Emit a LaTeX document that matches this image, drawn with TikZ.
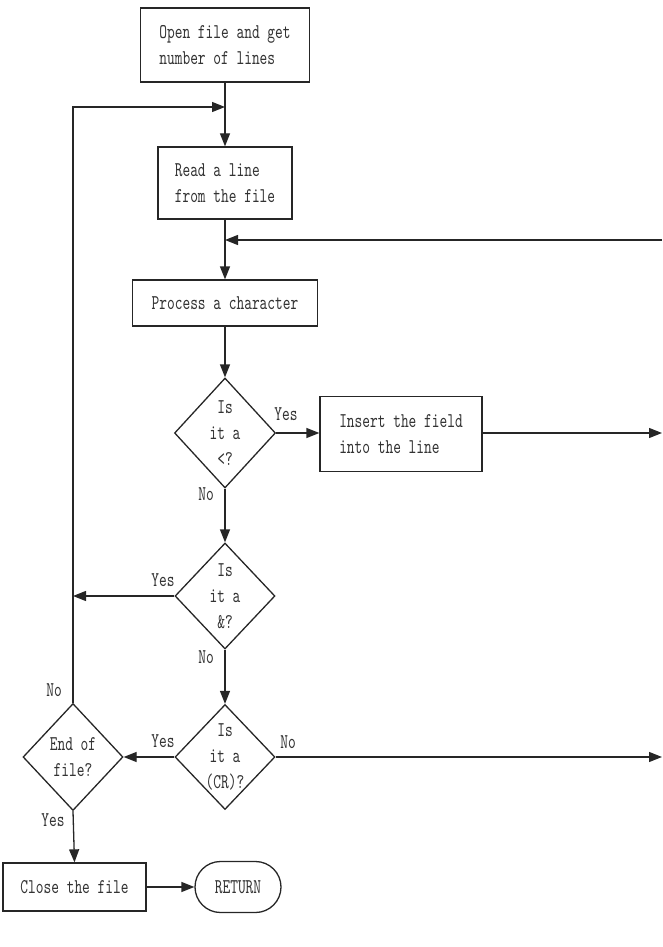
\documentclass[tikz,border=0pt]{standalone}
\usepackage{fontspec}
\setmonofont{lmmono10-regular.otf}[FakeStretch=0.7]
\usetikzlibrary{shapes.geometric,shapes.misc,arrows.meta}
\tikzset{
  every node/.style={font=\ttfamily\fontsize{21}{26}\selectfont, text=black!80},
  boxnode/.style={draw=black!85, line width=1.3pt, inner sep=0pt, align=left},
  dia/.style={draw=black!85, line width=1.3pt, diamond, inner sep=0pt, aspect=1},
  txt/.style={align=center, inner sep=0pt},
  lbl/.style={inner sep=0pt},
  conn/.style={draw=black!85, line width=1.3pt, -{Triangle[length=13pt,width=10pt]}},
}
\begin{document}
\begin{tikzpicture}[x=1pt,y=-1pt]
\useasboundingbox (0,0) rectangle (662,947);
% boxes
\node[boxnode, minimum width=169pt, minimum height=74pt] (b1) at (225,45) {Open file and get\\number of lines};
\node[boxnode, minimum width=134pt, minimum height=72pt] (b2) at (225,183) {Read a line\\from the file};
\node[boxnode, minimum width=185pt, minimum height=46pt] (b3) at (225,303) {Process a character};
\node[boxnode, minimum width=162pt, minimum height=75pt] (b4) at (401,434) {Insert the field\\into the line};
\node[boxnode, minimum width=143pt, minimum height=48pt] (b5) at (74.5,887) {Close the file};
\node[draw=black!85, line width=1.3pt, rounded rectangle, minimum width=86pt, minimum height=51pt, inner sep=0pt] (ret) at (238,887) {RETURN};
% diamonds
\node[dia, minimum width=101pt, minimum height=110pt] (d1) at (225,433) {};
\node[txt] at (d1) {Is\\it a\\<?};
\node[dia, minimum width=100pt, minimum height=106pt] (d2) at (225,596) {};
\node[txt] at (d2) {Is\\it a\\\&?};
\node[dia, minimum width=100pt, minimum height=105pt] (d3) at (225,757) {};
\node[txt] at (d3) {Is\\it a\\(CR)?};
\node[dia, minimum width=100pt, minimum height=107pt] (d4) at (73,757) {};
\node[txt] at (d4) {End of\\file?};
% coordinates
\coordinate (j1) at (225,107);
\coordinate (lc) at (73,107);
\coordinate (j2) at (225,240);
\coordinate (rt) at (662,240);
\coordinate (r1) at (662,433);
\coordinate (r2) at (662,757);
\coordinate (l2) at (73,596);
% connectors
\draw[conn] (b1.south) -- (b2.north);
\draw[conn] (d4.north) -- (lc) -- (j1);
\draw[conn] (b2.south) -- (b3.north);
\draw[conn] (rt) -- (j2);
\draw[conn] (b3.south) -- (d1.north);
\draw[conn] (d1.east) -- (b4.west |- d1.east);
\draw[conn] (b4.east |- r1) -- (r1);
\draw[conn] (d1.south) -- (d2.north);
\draw[conn] (d2.west) -- (l2);
\draw[conn] (d2.south) -- (d3.north);
\draw[conn] (d3.west) -- (d4.east);
\draw[conn] (d3.east) -- (r2);
\draw[conn] (d4.south) -- (b5.north);
\draw[conn] (b5.east) -- (ret.west);
% labels
\node[lbl] (y1) at (286,414) {Yes};
\node[lbl] (n1) at (206,494) {No};
\node[lbl] (y2) at (163,580) {Yes};
\node[lbl] (n2) at (206,657) {No};
\node[lbl] (n4) at (54,690) {No};
\node[lbl] (y3) at (163,741) {Yes};
\node[lbl] (n3) at (288,742) {No};
\node[lbl] (y4) at (53,820) {Yes};
\end{tikzpicture}
\end{document}
